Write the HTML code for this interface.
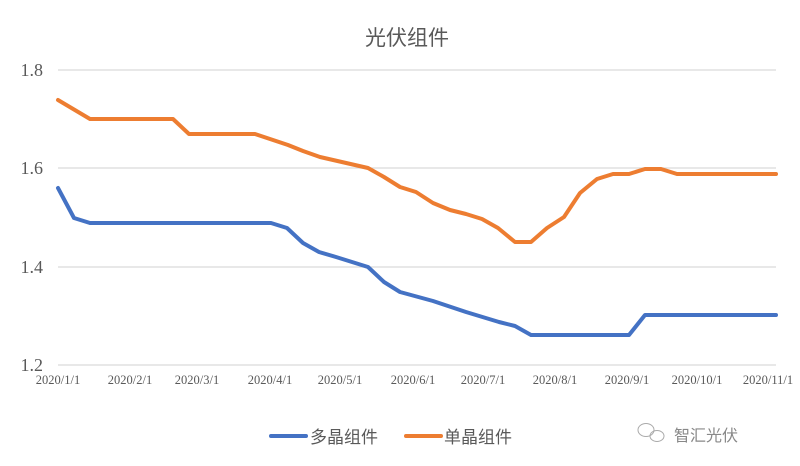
<!DOCTYPE html>
<html><head><meta charset="utf-8"><style>
body{margin:0;background:#fff;}
svg{display:block}
</style></head><body>
<svg width="800" height="466" xmlns="http://www.w3.org/2000/svg">
<rect width="800" height="466" fill="#fff"/>
<text x="407" y="45" text-anchor="middle" font-family="Liberation Sans, Noto Sans CJK SC, sans-serif" font-size="21" fill="#595959">光伏组件</text>
<g stroke="#d9d9d9" stroke-width="1.2">
<line x1="58" y1="70" x2="776" y2="70"/>
<line x1="58" y1="168" x2="776" y2="168"/>
<line x1="58" y1="267" x2="776" y2="267"/>
<line x1="58" y1="365" x2="776" y2="365"/>
</g>
<g font-family="Liberation Serif, serif" font-size="18" fill="#595959" text-anchor="end">
<text x="43" y="76">1.8</text>
<text x="43" y="174">1.6</text>
<text x="43" y="273">1.4</text>
<text x="43" y="371">1.2</text>
</g>
<g font-family="Liberation Serif, serif" font-size="12.5" fill="#595959" text-anchor="middle">
<text x="58" y="384">2020/1/1</text>
<text x="130" y="384">2020/2/1</text>
<text x="197" y="384">2020/3/1</text>
<text x="270" y="384">2020/4/1</text>
<text x="340" y="384">2020/5/1</text>
<text x="413" y="384">2020/6/1</text>
<text x="483" y="384">2020/7/1</text>
<text x="555" y="384">2020/8/1</text>
<text x="627" y="384">2020/9/1</text>
<text x="697" y="384">2020/10/1</text>
<text x="768" y="384">2020/11/1</text>
</g>
<polyline fill="none" stroke="#ed7d31" stroke-width="4" stroke-linejoin="round" stroke-linecap="round" points="58,100 90,119 173,119 189,134 255,134 288,145 303,151 320,157 368,168 384,177 400,187 416,192 433,203 450,210 466,214 482,219 498,228 515,242 531,242 547,228 564,217 580,193 597,179 613,174 629,174 645,169 661,169 677,174 776,174"/>
<polyline fill="none" stroke="#4472c4" stroke-width="4" stroke-linejoin="round" stroke-linecap="round" points="58,188 74,218 90,223 271,223 287,228 303,243 319,252 336,257 352,262 368,267 384,282 400,292 433,301 466,312 499,322 515,326 531,335 629,335 645,315 776,315"/>
<line x1="271" y1="436" x2="306" y2="436" stroke="#4472c4" stroke-width="4" stroke-linecap="round"/>
<text x="310" y="443" font-family="Liberation Sans, Noto Sans CJK SC, sans-serif" font-size="17" fill="#595959">多晶组件</text>
<line x1="406" y1="436" x2="441" y2="436" stroke="#ed7d31" stroke-width="4" stroke-linecap="round"/>
<text x="444" y="443" font-family="Liberation Sans, Noto Sans CJK SC, sans-serif" font-size="17" fill="#595959">单晶组件</text>
<g fill="none" stroke="#aaa" stroke-width="1">
<ellipse cx="646" cy="430" rx="8" ry="6.5"/>
<ellipse cx="657" cy="436" rx="7" ry="5.5"/>
</g>
<text x="674" y="441" font-family="Liberation Sans, Noto Sans CJK SC, sans-serif" font-size="16" fill="#888">智汇光伏</text>
</svg>
</body></html>
